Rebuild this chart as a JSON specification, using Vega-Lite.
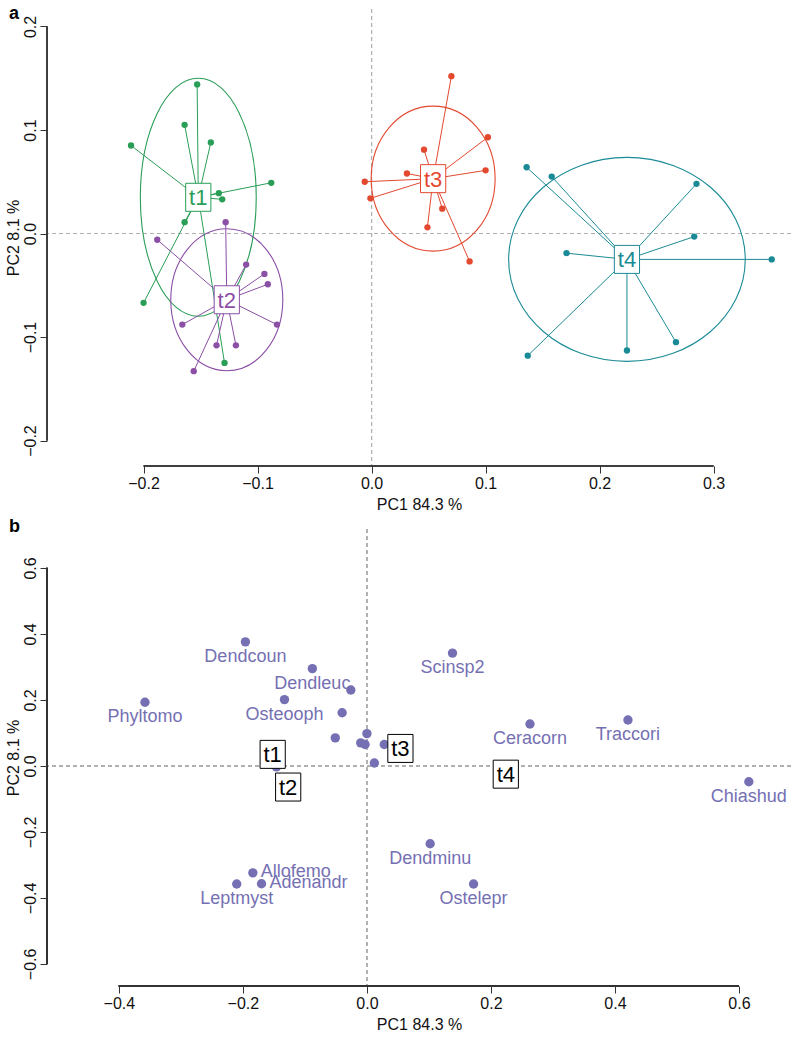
{
  "$schema": "https://vega.github.io/schema/vega-lite/v6.json",
  "background": "white",
  "padding": {"left": 4, "top": 4, "right": 0, "bottom": 0},
  "spacing": 5,
  "config": {
    "font": "Liberation Sans",
    "view": {"stroke": null},
    "axis": {"grid": false, "domain": false, "tickColor": "#333333", "tickSize": 7, "tickWidth": 1, "labelFontSize": 16, "labelColor": "#111111", "labelFont": "Liberation Sans", "titleFont": "Liberation Sans", "titleFontSize": 16, "titleFontWeight": "normal", "titleColor": "#111111", "labelPadding": 2},
    "axisX": {"titlePadding": 5},
    "axisY": {"labelAngle": -90, "labelAlign": "center", "labelBaseline": "bottom", "titlePadding": 1},
    "title": {"font": "Liberation Sans", "fontSize": 18, "fontWeight": "bold", "anchor": "start", "frame": "bounds", "color": "#000000"}
  },
  "datasets": {
    "pts": [
      {"grp": "t1", "x": -0.153, "y": 0.144, "cx": -0.152, "cy": 0.035}, {"grp": "t1", "x": -0.164, "y": 0.105, "cx": -0.152, "cy": 0.035}, {"grp": "t1", "x": -0.141, "y": 0.088, "cx": -0.152, "cy": 0.035}, {"grp": "t1", "x": -0.211, "y": 0.085, "cx": -0.152, "cy": 0.035}, {"grp": "t1", "x": -0.088, "y": 0.049, "cx": -0.152, "cy": 0.035},
      {"grp": "t1", "x": -0.134, "y": 0.039, "cx": -0.152, "cy": 0.035}, {"grp": "t1", "x": -0.131, "y": 0.033, "cx": -0.152, "cy": 0.035}, {"grp": "t1", "x": -0.164, "y": 0.011, "cx": -0.152, "cy": 0.035}, {"grp": "t1", "x": -0.200, "y": -0.067, "cx": -0.152, "cy": 0.035}, {"grp": "t1", "x": -0.129, "y": -0.125, "cx": -0.152, "cy": 0.035},
      {"grp": "t2", "x": -0.128, "y": 0.011, "cx": -0.127, "cy": -0.064}, {"grp": "t2", "x": -0.188, "y": -0.006, "cx": -0.127, "cy": -0.064}, {"grp": "t2", "x": -0.110, "y": -0.030, "cx": -0.127, "cy": -0.064}, {"grp": "t2", "x": -0.094, "y": -0.039, "cx": -0.127, "cy": -0.064}, {"grp": "t2", "x": -0.091, "y": -0.049, "cx": -0.127, "cy": -0.064},
      {"grp": "t2", "x": -0.166, "y": -0.088, "cx": -0.127, "cy": -0.064}, {"grp": "t2", "x": -0.083, "y": -0.088, "cx": -0.127, "cy": -0.064}, {"grp": "t2", "x": -0.136, "y": -0.108, "cx": -0.127, "cy": -0.064}, {"grp": "t2", "x": -0.119, "y": -0.108, "cx": -0.127, "cy": -0.064}, {"grp": "t2", "x": -0.156, "y": -0.133, "cx": -0.127, "cy": -0.064},
      {"grp": "t3", "x": 0.070, "y": 0.152, "cx": 0.054, "cy": 0.053}, {"grp": "t3", "x": 0.102, "y": 0.093, "cx": 0.054, "cy": 0.053}, {"grp": "t3", "x": 0.046, "y": 0.081, "cx": 0.054, "cy": 0.053}, {"grp": "t3", "x": 0.100, "y": 0.061, "cx": 0.054, "cy": 0.053}, {"grp": "t3", "x": 0.031, "y": 0.058, "cx": 0.054, "cy": 0.053},
      {"grp": "t3", "x": -0.006, "y": 0.050, "cx": 0.054, "cy": 0.053}, {"grp": "t3", "x": -0.001, "y": 0.034, "cx": 0.054, "cy": 0.053}, {"grp": "t3", "x": 0.062, "y": 0.024, "cx": 0.054, "cy": 0.053}, {"grp": "t3", "x": 0.049, "y": 0.006, "cx": 0.054, "cy": 0.053}, {"grp": "t3", "x": 0.086, "y": -0.027, "cx": 0.054, "cy": 0.053},
      {"grp": "t4", "x": 0.136, "y": 0.064, "cx": 0.224, "cy": -0.025}, {"grp": "t4", "x": 0.158, "y": 0.055, "cx": 0.224, "cy": -0.025}, {"grp": "t4", "x": 0.285, "y": 0.048, "cx": 0.224, "cy": -0.025}, {"grp": "t4", "x": 0.283, "y": -0.003, "cx": 0.224, "cy": -0.025}, {"grp": "t4", "x": 0.171, "y": -0.019, "cx": 0.224, "cy": -0.025},
      {"grp": "t4", "x": 0.351, "y": -0.025, "cx": 0.224, "cy": -0.025}, {"grp": "t4", "x": 0.267, "y": -0.105, "cx": 0.224, "cy": -0.025}, {"grp": "t4", "x": 0.224, "y": -0.113, "cx": 0.224, "cy": -0.025}, {"grp": "t4", "x": 0.137, "y": -0.118, "cx": 0.224, "cy": -0.025}
    ],
    "cent": [
      {"grp": "t1", "cx": -0.152, "cy": 0.035},
      {"grp": "t2", "cx": -0.127, "cy": -0.064},
      {"grp": "t3", "cx": 0.054, "cy": 0.053},
      {"grp": "t4", "cx": 0.224, "cy": -0.025}
    ],
    "sp": [
      {"name": "Dendcoun", "x": -0.196, "y": 0.376},
      {"name": "Dendleuc", "x": -0.088, "y": 0.295},
      {"name": "", "x": -0.026, "y": 0.230},
      {"name": "Phyltomo", "x": -0.358, "y": 0.193},
      {"name": "Osteooph", "x": -0.133, "y": 0.201},
      {"name": "", "x": -0.040, "y": 0.161},
      {"name": "Scinsp2", "x": 0.138, "y": 0.342},
      {"name": "", "x": -0.051, "y": 0.085},
      {"name": "", "x": 0.000, "y": 0.098},
      {"name": "", "x": -0.010, "y": 0.070},
      {"name": "", "x": -0.003, "y": 0.065},
      {"name": "", "x": 0.028, "y": 0.065},
      {"name": "", "x": 0.012, "y": 0.009},
      {"name": "", "x": -0.146, "y": -0.003},
      {"name": "Ceracorn", "x": 0.263, "y": 0.127},
      {"name": "Traccori", "x": 0.421, "y": 0.139},
      {"name": "Chiashud", "x": 0.616, "y": -0.048},
      {"name": "Dendminu", "x": 0.102, "y": -0.236},
      {"name": "Allofemo", "x": -0.184, "y": -0.324},
      {"name": "Adenandr", "x": -0.170, "y": -0.357},
      {"name": "Leptmyst", "x": -0.210, "y": -0.358},
      {"name": "Ostelepr", "x": 0.172, "y": -0.358}
    ]
  },
  "vconcat": [
    {
      "width": 744,
      "height": 457,
      "title": {"text": "a", "offset": -14, "dx": 4},
      "layer": [
        {
          "data": {"name": "cent"},
          "mark": {"type": "rule", "color": "#B0B0B0", "strokeDash": [4, 3], "strokeWidth": 1},
          "encoding": {
            "x": {"datum": 0, "type": "quantitative", "scale": {"domain": [-0.2847, 0.3679], "nice": false, "zero": false}, "axis": {"values": [-0.2, -0.1, 0, 0.1, 0.2, 0.3], "format": ".1f", "title": "PC1 84.3 %"}}
          }
        },
        {
          "data": {"name": "cent"},
          "mark": {"type": "rule", "color": "#B0B0B0", "strokeDash": [4, 3], "strokeWidth": 1},
          "encoding": {
            "y": {"datum": 0, "type": "quantitative", "scale": {"domain": [-0.2246, 0.2169], "nice": false, "zero": false}, "axis": {"values": [-0.2, -0.1, 0, 0.1, 0.2], "format": ".1f", "title": "PC2 8.1 %"}}
          }
        },
        {
          "data": {"name": "cent"},
          "mark": {"type": "rule", "color": "#333333", "strokeWidth": 1},
          "encoding": {"x": {"datum": -0.2}, "x2": {"datum": 0.3}, "y": {"datum": -0.2246}}
        },
        {
          "data": {"name": "cent"},
          "mark": {"type": "rule", "color": "#333333", "strokeWidth": 1},
          "encoding": {"x": {"datum": -0.2847}, "y": {"datum": -0.2}, "y2": {"datum": 0.2}}
        },
        {
          "data": {"name": "cent"},
          "transform": [{"filter": {"field": "grp", "equal": "t1"}}],
          "mark": {"type": "point", "filled": false, "opacity": 1, "strokeWidth": 1.1, "size": 56644, "shape": "M 0.487 0 C 0.487 0.552 0.269 1 0 1 C -0.269 1 -0.487 0.552 -0.487 0 C -0.487 -0.552 -0.269 -1 0 -1 C 0.269 -1 0.487 -0.552 0.487 0 Z"},
          "encoding": {
            "x": {"field": "cx", "type": "quantitative"},
            "y": {"field": "cy", "type": "quantitative"},
            "color": {"field": "grp", "type": "nominal", "scale": {"domain": ["t1", "t2", "t3", "t4"], "range": ["#2A9E57", "#8B4FA6", "#E3492F", "#1A8B96"]}, "legend": null}
          }
        },
        {
          "data": {"name": "cent"},
          "transform": [{"filter": {"field": "grp", "equal": "t2"}}],
          "mark": {"type": "point", "filled": false, "opacity": 1, "strokeWidth": 1.1, "size": 20164, "shape": "M 0.789 0 C 0.789 0.552 0.436 1 0 1 C -0.436 1 -0.789 0.552 -0.789 0 C -0.789 -0.552 -0.436 -1 0 -1 C 0.436 -1 0.789 -0.552 0.789 0 Z"},
          "encoding": {
            "x": {"field": "cx", "type": "quantitative"},
            "y": {"field": "cy", "type": "quantitative"},
            "color": {"field": "grp", "type": "nominal", "legend": null}
          }
        },
        {
          "data": {"name": "cent"},
          "transform": [{"filter": {"field": "grp", "equal": "t3"}}],
          "mark": {"type": "point", "filled": false, "opacity": 1, "strokeWidth": 1.1, "size": 21025, "shape": "M 0.855 0 C 0.855 0.552 0.472 1 0 1 C -0.472 1 -0.855 0.552 -0.855 0 C -0.855 -0.552 -0.472 -1 0 -1 C 0.472 -1 0.855 -0.552 0.855 0 Z"},
          "encoding": {
            "x": {"field": "cx", "type": "quantitative"},
            "y": {"field": "cy", "type": "quantitative"},
            "color": {"field": "grp", "type": "nominal", "legend": null}
          }
        },
        {
          "data": {"name": "cent"},
          "transform": [{"filter": {"field": "grp", "equal": "t4"}}],
          "mark": {"type": "point", "filled": false, "opacity": 1, "strokeWidth": 1.1, "size": 55980, "shape": "M 1 0 C 1 0.476 0.552 0.862 0 0.862 C -0.552 0.862 -1 0.476 -1 0 C -1 -0.476 -0.552 -0.862 0 -0.862 C 0.552 -0.862 1 -0.476 1 0 Z"},
          "encoding": {
            "x": {"field": "cx", "type": "quantitative"},
            "y": {"field": "cy", "type": "quantitative"},
            "color": {"field": "grp", "type": "nominal", "legend": null}
          }
        },
        {
          "data": {"name": "pts"},
          "mark": {"type": "rule", "strokeWidth": 1},
          "encoding": {
            "x": {"field": "x", "type": "quantitative"},
            "y": {"field": "y", "type": "quantitative"},
            "x2": {"field": "cx"},
            "y2": {"field": "cy"},
            "color": {"field": "grp", "type": "nominal", "legend": null}
          }
        },
        {
          "data": {"name": "pts"},
          "mark": {"type": "point", "filled": true, "opacity": 1, "size": 40, "strokeWidth": 0},
          "encoding": {
            "x": {"field": "x", "type": "quantitative"},
            "y": {"field": "y", "type": "quantitative"},
            "color": {"field": "grp", "type": "nominal", "legend": null}
          }
        },
        {
          "data": {"name": "cent"},
          "mark": {"type": "point", "filled": true, "fill": "white", "opacity": 1, "strokeWidth": 1, "size": 784, "shape": "M -0.9 -1 L 0.9 -1 L 0.9 1 L -0.9 1 Z"},
          "encoding": {
            "x": {"field": "cx", "type": "quantitative"},
            "y": {"field": "cy", "type": "quantitative"},
            "stroke": {"field": "grp", "type": "nominal", "scale": {"domain": ["t1", "t2", "t3", "t4"], "range": ["#2A9E57", "#8B4FA6", "#E3492F", "#1A8B96"]}, "legend": null}
          }
        },
        {
          "data": {"name": "cent"},
          "mark": {"type": "text", "fontSize": 22, "font": "Liberation Sans", "align": "center", "baseline": "middle", "dy": 1},
          "encoding": {
            "x": {"field": "cx", "type": "quantitative"},
            "y": {"field": "cy", "type": "quantitative"},
            "text": {"field": "grp"},
            "color": {"field": "grp", "type": "nominal", "legend": null}
          }
        }
      ]
    },
    {
      "width": 744,
      "height": 457,
      "title": {"text": "b", "offset": -7, "dx": 4},
      "layer": [
        {
          "data": {"name": "sp"},
          "mark": {"type": "rule", "color": "#B0B0B0", "strokeDash": [4, 3], "strokeWidth": 1},
          "encoding": {
            "x": {"datum": 0, "type": "quantitative", "scale": {"domain": [-0.516, 0.684], "nice": false, "zero": false}, "axis": {"values": [-0.4, -0.2, 0, 0.2, 0.4, 0.6], "format": ".1f", "title": "PC1 84.3 %"}}
          }
        },
        {
          "data": {"name": "sp"},
          "mark": {"type": "rule", "color": "#B0B0B0", "strokeDash": [4, 3], "strokeWidth": 1},
          "encoding": {
            "y": {"datum": 0, "type": "quantitative", "scale": {"domain": [-0.667, 0.718], "nice": false, "zero": false}, "axis": {"values": [-0.6, -0.4, -0.2, 0, 0.2, 0.4, 0.6], "format": ".1f", "title": "PC2 8.1 %"}}
          }
        },
        {
          "data": {"name": "sp"},
          "mark": {"type": "rule", "color": "#333333", "strokeWidth": 1},
          "encoding": {"x": {"datum": -0.4}, "x2": {"datum": 0.6}, "y": {"datum": -0.667}}
        },
        {
          "data": {"name": "sp"},
          "mark": {"type": "rule", "color": "#333333", "strokeWidth": 1},
          "encoding": {"x": {"datum": -0.516}, "y": {"datum": -0.6}, "y2": {"datum": 0.6}}
        },
        {
          "data": {"name": "sp"},
          "mark": {"type": "point", "filled": true, "opacity": 1, "size": 88, "strokeWidth": 0, "color": "#7570B3"},
          "encoding": {
            "x": {"field": "x", "type": "quantitative"},
            "y": {"field": "y", "type": "quantitative"}
          }
        },
        {
          "data": {"name": "sp"},
          "transform": [{"filter": "isValid(datum.name) && datum.name != '' && datum.name != 'Allofemo' && datum.name != 'Adenandr'"}],
          "mark": {"type": "text", "fontSize": 18, "font": "Liberation Sans", "align": "center", "baseline": "middle", "dy": 15, "color": "#7570B3"},
          "encoding": {
            "x": {"field": "x", "type": "quantitative"},
            "y": {"field": "y", "type": "quantitative"},
            "text": {"field": "name"}
          }
        },
        {
          "data": {"name": "sp"},
          "transform": [{"filter": {"field": "name", "oneOf": ["Allofemo", "Adenandr"]}}],
          "mark": {"type": "text", "fontSize": 18, "font": "Liberation Sans", "align": "left", "baseline": "middle", "dx": 8, "dy": -1, "color": "#7570B3"},
          "encoding": {
            "x": {"field": "x", "type": "quantitative"},
            "y": {"field": "y", "type": "quantitative"},
            "text": {"field": "name"}
          }
        },
        {
          "data": {"name": "cent"},
          "mark": {"type": "point", "filled": true, "fill": "white", "stroke": "#000000", "opacity": 1, "strokeWidth": 1, "size": 784, "shape": "M -0.9 -1 L 0.9 -1 L 0.9 1 L -0.9 1 Z"},
          "encoding": {
            "x": {"field": "cx", "type": "quantitative"},
            "y": {"field": "cy", "type": "quantitative"}
          }
        },
        {
          "data": {"name": "cent"},
          "mark": {"type": "text", "fontSize": 22, "font": "Liberation Sans", "align": "center", "baseline": "middle", "dy": 1, "color": "#000000"},
          "encoding": {
            "x": {"field": "cx", "type": "quantitative"},
            "y": {"field": "cy", "type": "quantitative"},
            "text": {"field": "grp"}
          }
        }
      ]
    }
  ]
}
